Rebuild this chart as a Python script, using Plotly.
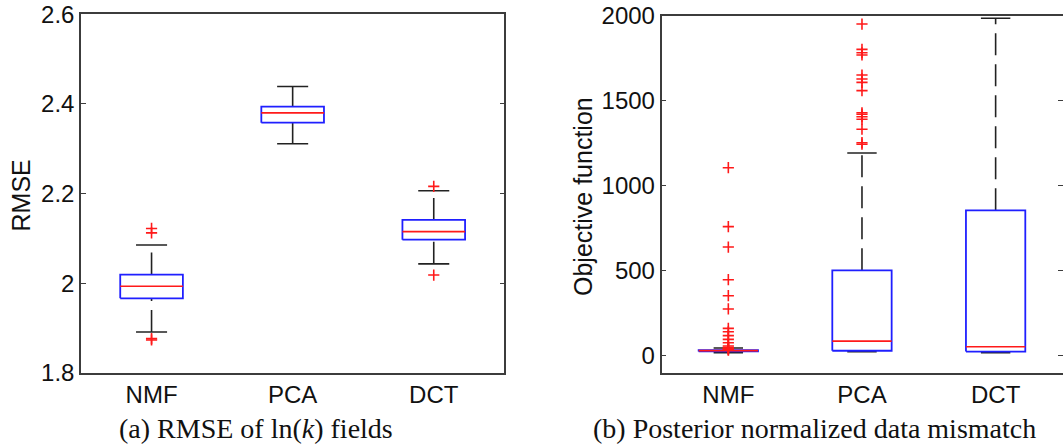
import plotly.graph_objects as go

# ---- data -------------------------------------------------------------
categories = ["NMF", "PCA", "DCT"]

# (a) RMSE of ln(k) fields: box statistics per method
rmse_lower = [1.891, 2.311, 2.043]
rmse_q1 = [1.966, 2.358, 2.097]
rmse_median = [1.993, 2.380, 2.115]
rmse_q3 = [2.019, 2.394, 2.141]
rmse_upper = [2.085, 2.439, 2.206]
rmse_outliers = [
    [2.122, 2.112, 1.876, 1.873],
    [],
    [2.216, 2.018],
]
rmse_ticks = [1.8, 2.0, 2.2, 2.4, 2.6]
rmse_ticktext = ["1.8", "2", "2.2", "2.4", "2.6"]

# (b) Posterior normalized data mismatch: box statistics per method
obj_lower = [18, 24, 18]
obj_q1 = [25, 29, 24]
obj_median = [30, 86, 53]
obj_q3 = [33, 502, 855]
obj_upper = [45, 1192, 1985]
obj_outliers = [
    [1106, 759, 639, 447, 353, 275, 161, 141, 118, 96, 76, 57, 48, 44, 40, 36, 33],
    [1951, 1802, 1782, 1769, 1651, 1628, 1608, 1559, 1429, 1420, 1406, 1391,
     1332, 1253, 1244],
    [],
]
obj_ticks = [0, 500, 1000, 1500, 2000]
obj_ticktext = ["0", "500", "1000", "1500", "2000"]

# ---- styling ------------------------------------------------------------
BOX_HALF = 0.222
CAP_HALF = 0.11
BLUE = "#1f1fff"
RED = "#ff1a1a"
WHISKER = "#222222"
AXIS = "#3c3c3c"
SANS = "Liberation Sans, Arial, sans-serif"
SERIF = "Liberation Serif, Times New Roman, serif"
DASH = "22px,9px"

fig = go.Figure()


def add_boxes(xref, yref, lower, q1, med, q3, upper, outliers):
    for i, name in enumerate(categories):
        pos = i + 1
        # dashed whiskers, drawn upward from the lower end and from the box top
        fig.add_trace(go.Scatter(
            x=[pos, pos], y=[lower[i], q1[i]], mode="lines",
            line=dict(color=WHISKER, width=1.6, dash=DASH),
            xaxis=xref, yaxis=yref, showlegend=False, hoverinfo="skip"))
        fig.add_trace(go.Scatter(
            x=[pos, pos], y=[q3[i], upper[i]], mode="lines",
            line=dict(color=WHISKER, width=1.6, dash=DASH),
            xaxis=xref, yaxis=yref, showlegend=False, hoverinfo="skip"))
        # whisker caps
        for v in (lower[i], upper[i]):
            fig.add_trace(go.Scatter(
                x=[pos - CAP_HALF, pos + CAP_HALF], y=[v, v], mode="lines",
                line=dict(color=WHISKER, width=1.6),
                xaxis=xref, yaxis=yref, showlegend=False, hoverinfo="skip"))
        # box
        fig.add_trace(go.Scatter(
            x=[pos - BOX_HALF, pos + BOX_HALF, pos + BOX_HALF, pos - BOX_HALF, pos - BOX_HALF],
            y=[q1[i], q1[i], q3[i], q3[i], q1[i]], mode="lines",
            line=dict(color=BLUE, width=1.8),
            xaxis=xref, yaxis=yref, showlegend=False, name=name, hoverinfo="skip"))
        # median
        fig.add_trace(go.Scatter(
            x=[pos - BOX_HALF, pos + BOX_HALF], y=[med[i], med[i]], mode="lines",
            line=dict(color=RED, width=1.6),
            xaxis=xref, yaxis=yref, showlegend=False, hoverinfo="skip"))
        # outliers
        if outliers[i]:
            fig.add_trace(go.Scatter(
                x=[pos] * len(outliers[i]), y=outliers[i], mode="markers",
                marker=dict(symbol="cross-thin", size=8,
                            line=dict(color=RED, width=1.6)),
                xaxis=xref, yaxis=yref, showlegend=False, hoverinfo="skip"))


add_boxes("x", "y", rmse_lower, rmse_q1, rmse_median, rmse_q3, rmse_upper, rmse_outliers)
add_boxes("x2", "y2", obj_lower, obj_q1, obj_median, obj_q3, obj_upper, obj_outliers)

# invisible trace so the right-hand tick axis of panel (b) is drawn
fig.add_trace(go.Scatter(x=[1], y=[0], mode="markers", marker=dict(opacity=0),
                         xaxis="x2", yaxis="y3", showlegend=False, hoverinfo="skip"))

W, H = 1063, 445
xaxis_common = dict(
    tickmode="array", tickvals=[1, 2, 3], ticktext=categories, ticks="",
    showline=True, mirror=True, linecolor=AXIS, linewidth=1.5,
    showgrid=False, zeroline=False, automargin=False,
    tickfont=dict(family=SANS, size=24, color="#111111"),
)
yaxis_common = dict(
    tickmode="array", ticks="inside", ticklen=5, tickwidth=1.2, tickcolor=AXIS,
    showline=True, linecolor=AXIS, linewidth=1.5,
    showgrid=False, zeroline=False, automargin=False,
    tickfont=dict(family=SANS, size=24, color="#111111"),
)

fig.update_layout(
    width=W, height=H,
    margin=dict(l=0, r=0, t=0, b=0, autoexpand=False),
    paper_bgcolor="white", plot_bgcolor="white",
    xaxis=dict(domain=[81 / W, 504.3 / W], range=[0.5, 3.5], anchor="y", **xaxis_common),
    yaxis=dict(domain=[(H - 372.7) / H, (H - 14.3) / H], range=[1.8, 2.6], anchor="x",
               tickvals=rmse_ticks, ticktext=rmse_ticktext, mirror="ticks", **yaxis_common),
    xaxis2=dict(domain=[661.5 / W, 1.0], range=[0.5, 0.5 + (W - 661.5) / 133.65],
                anchor="y2", **xaxis_common),
    yaxis2=dict(domain=[(H - 372.7) / H, (H - 15.7) / H], range=[-100, 2000], anchor="x2",
                tickvals=obj_ticks, ticktext=obj_ticktext, mirror=False, **yaxis_common),
    yaxis3=dict(overlaying="y2", side="right", anchor="x2", range=[-100, 2000],
                tickmode="array", tickvals=obj_ticks, ticks="inside", ticklen=5,
                tickwidth=1.2, tickcolor=AXIS, showticklabels=False, showline=False,
                showgrid=False, zeroline=False, automargin=False),
    annotations=[
        dict(text="RMSE", x=20.5 / W, y=1 - 196 / H, xref="paper", yref="paper",
             textangle=-90, showarrow=False, xanchor="center", yanchor="middle",
             font=dict(family=SANS, size=25, color="#111111")),
        dict(text="Objective function", x=583 / W, y=1 - 197 / H, xref="paper", yref="paper",
             textangle=-90, showarrow=False, xanchor="center", yanchor="middle",
             font=dict(family=SANS, size=25, color="#111111")),
        dict(text="(a) RMSE of ln(<i>k</i>) fields", x=256 / W, y=1 - 428 / H,
             xref="paper", yref="paper", showarrow=False, xanchor="center", yanchor="middle",
             font=dict(family=SERIF, size=28, color="#111111")),
        dict(text="(b) Posterior normalized data mismatch", x=814 / W, y=1 - 428 / H,
             xref="paper", yref="paper", showarrow=False, xanchor="center", yanchor="middle",
             font=dict(family=SERIF, size=28, color="#111111")),
    ],
)

fig.write_html("out.html")
